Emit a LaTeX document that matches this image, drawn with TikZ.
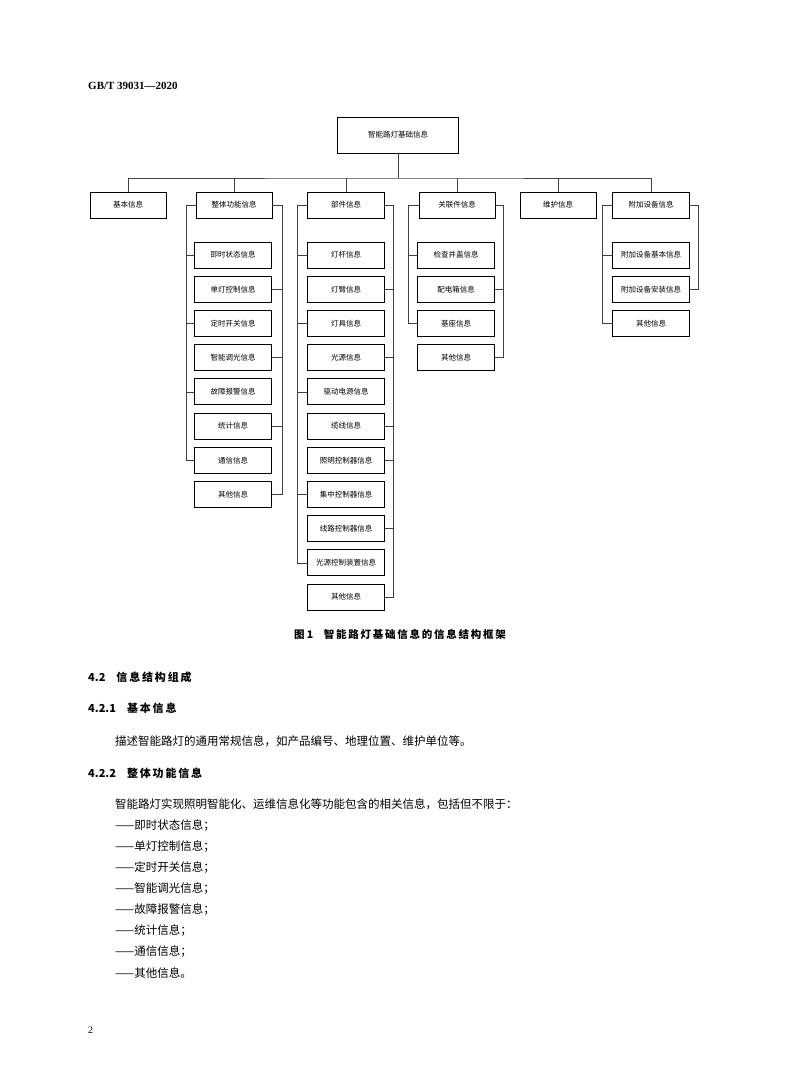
\documentclass[tikz,border=0pt]{standalone}
\usepackage{fontspec}
\setmainfont{Liberation Serif}
\newfontfamily\cjk{Noto Sans CJK SC}
\usepackage{tikz}

\tikzset{
    box/.style={draw, rectangle, line width=0.7pt, minimum height=26pt, inner sep=0pt, font=\cjk\fontsize{7.5}{8}\selectfont},
    link/.style={draw, line width=0.6pt, black!75},
    body/.style={anchor=west, inner sep=0pt, font=\cjk\fontsize{11.5}{12}\selectfont},
    head/.style={anchor=west, inner sep=0pt, font=\cjk\bfseries\fontsize{11}{12}\selectfont}
}

\begin{document}
\begin{tikzpicture}[x=1pt, y=-1pt]
    \useasboundingbox (0,0) rectangle (800,1091);
    % Header
    \node[anchor=west, inner sep=0pt, font=\bfseries\fontsize{11}{12}\selectfont] (docid) at (88,86) {GB/T 39031---2020};

    % Root and bus
    \node[box, minimum width=121pt, minimum height=36pt] (root) at (398,135) {智能路灯基础信息};
    \coordinate (bus) at (398,178);
    \draw[link] (root) -- (bus);

    % Level one
    \node[box, minimum width=76pt] (basic) at (128,205) {基本信息};
    \node[box, minimum width=76pt] (whole) at (234,205) {整体功能信息};
    \node[box, minimum width=77pt] (parts) at (346,205) {部件信息};
    \node[box, minimum width=76pt] (assoc) at (457,205) {关联件信息};
    \node[box, minimum width=76pt] (maint) at (558,205) {维护信息};
    \node[box, minimum width=77pt] (addon) at (651,205) {附加设备信息};
    \draw[link] (basic.north) |- (bus) -| (addon.north);
    \foreach \n in {whole, parts, assoc, maint}
        \draw[link] (\n.north) -- (\n.north |- bus);

    % Children: parent / column centre / left x / right x / label:side
    \foreach \p/\cx/\lx/\rx/\items in {
        whole/233/186/282/{即时状态信息/l,单灯控制信息/r,定时开关信息/l,智能调光信息/r,故障报警信息/l,统计信息/r,通信信息/l,其他信息/r},
        parts/346/297/393/{灯杆信息/l,灯臂信息/r,灯具信息/l,光源信息/r,驱动电源信息/l,缆线信息/r,照明控制器信息/r,集中控制器信息/l,线路控制器信息/r,光源控制装置信息/l,其他信息/r},
        assoc/456/408/503/{检查井盖信息/l,配电箱信息/r,基座信息/l,其他信息/r},
        addon/651/602/698/{附加设备基本信息/l,附加设备安装信息/r,其他信息/l}} {
        \coordinate (\p-l) at (\lx,205);
        \coordinate (\p-r) at (\rx,205);
        \draw[link] (\p.west) -- (\p-l);
        \draw[link] (\p.east) -- (\p-r);
        \foreach \t/\s [count=\i] in \items {
            \node[box, minimum width=77pt] (\p-\i) at (\cx,{255+34.2*(\i-1)}) {\t};
            \if\s l
                \draw[link] (\p-l) |- (\p-\i.west);
            \else
                \draw[link] (\p-r) |- (\p-\i.east);
            \fi
        }
    }

    % Caption
    \node[inner sep=0pt, font=\cjk\bfseries\fontsize{10.5}{12}\selectfont] (caption) at (400,634) {图\ 1\quad 智\,能\,路\,灯\,基\,础\,信\,息\,的\,信\,息\,结\,构\,框\,架};

    % Body text
    \node[head] (s42) at (88,677) {4.2\quad 信\,息\,结\,构\,组\,成};
    \node[head] (s421) at (88,708) {4.2.1\quad 基\,本\,信\,息};
    \node[body] (p1) at (115,741) {描述智能路灯的通用常规信息，如产品编号、地理位置、维护单位等。};
    \node[head] (s422) at (88,773) {4.2.2\quad 整\,体\,功\,能\,信\,息};
    \node[body] (p2) at (115,804) {智能路灯实现照明智能化、运维信息化等功能包含的相关信息，包括但不限于：};
    \foreach \t [count=\i] in {即时状态信息；,单灯控制信息；,定时开关信息；,智能调光信息；,故障报警信息；,统计信息；,通信信息；,其他信息。}
        \node[body] (item\i) at (115,{826+21*(\i-1)}) {——\t};
    \node[anchor=west, inner sep=0pt, font=\fontsize{10}{12}\selectfont] (pageno) at (88,1030) {2};
\end{tikzpicture}
\end{document}
